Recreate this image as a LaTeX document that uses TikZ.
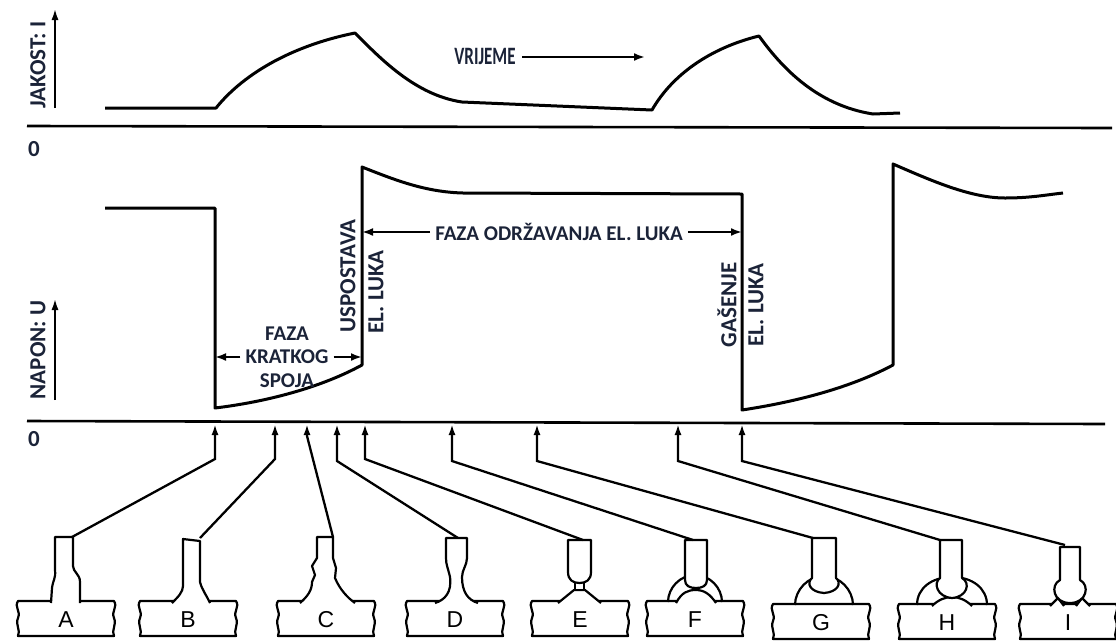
\documentclass[tikz,border=0pt]{standalone}
\usepackage{fontspec}
\setmainfont{Carlito}
\newfontfamily\sketchfont{Liberation Sans}
\usetikzlibrary{arrows.meta}
\definecolor{ink}{HTML}{1B2338}

\tikzset{
  curve/.style={line width=3pt, line join=round},
  axis/.style={line width=2.6pt},
  tag/.style={text=ink, font=\fontsize{21}{23.5}\selectfont\bfseries, inner sep=0pt},
  vtag/.style={tag, rotate=90, font=\fontsize{23}{23}\selectfont\bfseries},
  span/.style={line width=2.2pt, -{Latex[length=11pt,width=8pt]}},
  lead/.style={line width=2.3pt, -{Latex[length=11pt,width=7pt]}},
  weld/.style={line width=2.2pt, fill=white, line join=round},
  letter/.style={font=\sketchfont\fontsize{23}{23}\selectfont, inner sep=0pt},
  plate/.pic={
    \draw[weld] (-48,0) -- (48,0)
      .. controls (52,6) and (45,10) .. (48,17) .. controls (51,24) and (45,29) .. (48,35)
      -- (-48,35)
      .. controls (-45,29) and (-51,24) .. (-48,17) .. controls (-45,10) and (-52,6) .. (-48,0) -- cycle;
  }
}

\begin{document}
\begin{tikzpicture}[x=1pt, y=-1pt]
\useasboundingbox (0,0) rectangle (1116,641);

\draw[axis] (27,126) -- (1112,128);
\draw[axis] (27,421) -- (1105,424);
\draw[axis, -{Latex[length=12pt,width=7pt]}] (55,108) -- (55,8);
\draw[axis, -{Latex[length=12pt,width=7pt]}] (55,400) -- (55,298);
\node[vtag] (jakost) at (38,65) {JAKOST: I};
\node[vtag] (napon) at (38,350) {NAPON: U};
\node[tag, font=\fontsize{23}{23}\selectfont\bfseries] (nulaI) at (34,149) {0};
\node[tag, font=\fontsize{23}{23}\selectfont\bfseries] (nulaU) at (34,439) {0};

\draw[curve] (105,108) -- (216,108) .. controls (245,72) and (295,45) .. (355,33)
  .. controls (380,58) and (415,95) .. (462,102) -- (652,110)
  .. controls (672,75) and (710,48) .. (759,36)
  .. controls (780,65) and (815,105) .. (873,114) -- (900,113);

\node[tag, transform shape, xscale=.68, font=\fontsize{25}{25}\selectfont\bfseries] (vrijeme) at (485,56) {VRIJEME};
\coordinate (tend) at (645,57);
\draw[span] (522,57) -- (tend);

\coordinate (u1) at (215,208);
\coordinate (u2) at (215,408);
\coordinate (u3) at (362,365);
\coordinate (u4) at (362,167);
\coordinate (u5) at (742,194);
\coordinate (u6) at (742,410);
\coordinate (u7) at (893,365);
\coordinate (u8) at (893,164);
\draw[curve] (105,208) -- (u1) -- (u2) .. controls (265,402) and (320,388) .. (u3) -- (u4)
  .. controls (395,180) and (425,192) .. (463,193) -- (u5) -- (u6)
  .. controls (795,402) and (850,388) .. (u7) -- (u8)
  .. controls (930,180) and (970,198) .. (1005,198) .. controls (1030,198) and (1045,195) .. (1063,193);

\node[tag, align=center, inner xsep=5pt] (kratki) at (287,357) {FAZA\\KRATKOG\\SPOJA};
\draw[span] (kratki.west) -- (kratki.west -| u2);
\draw[span] (kratki.east) -- (kratki.east -| u3);
\node[tag, inner xsep=5pt] (odrz) at (559,232) {FAZA ODRŽAVANJA EL. LUKA};
\draw[span] (odrz.west) -- (odrz.west -| u4);
\draw[span] (odrz.east) -- (odrz.east -| u5);
\node[vtag] (usp) at (348,276) {USPOSTAVA};
\node[vtag] (uspluk) at (376,292) {EL. LUKA};
\node[vtag] (gas) at (727,305) {GAŠENJE};
\node[vtag] (gasluk) at (756,305) {EL. LUKA};

\foreach \k/\cx/\ty in {A/66/601, B/188/601, C/326/601, D/455/601, E/580/601,
    F/695/601, G/821/604, H/947/604, I/1068/604}{
  \pic at (\cx,\ty) {plate};
  \node[letter] (l\k) at (\cx,\ty+19) {\k};
}

\filldraw[weld] (51,603) -- (52,588) .. controls (53,580) and (56,578) .. (55,570) -- (55,537)
  -- (73,537) -- (73,566) .. controls (73,572) and (80,574) .. (80,582) -- (80,603);
\filldraw[weld] (172,603) .. controls (178,597) and (183,592) .. (183,586) -- (183,539)
  -- (200,541) -- (200,582) .. controls (202,590) and (207,596) .. (210,603);
\filldraw[weld] (300,603) .. controls (308,596) and (312,590) .. (312,582) -- (315,575) -- (312,566)
  -- (317,558) -- (317,537) -- (333,537) -- (333,558) -- (336,568) -- (335,578)
  .. controls (340,590) and (348,598) .. (355,603);
\filldraw[weld] (435,603) .. controls (445,600) and (452,592) .. (450,577)
  .. controls (448,568) and (446,565) .. (446,558) -- (446,538) -- (467,538) -- (467,558)
  .. controls (467,565) and (462,570) .. (462,577) .. controls (462,592) and (468,600) .. (478,603);

\filldraw[weld] (558,603) -- (574,590) -- (585,590) -- (601,603);
\draw[weld] (575,582) rectangle (584,590);
\filldraw[weld] (568,540) -- (568,572) .. controls (568,580) and (573,583) .. (579.5,583)
  .. controls (586,583) and (591,580) .. (591,572) -- (591,540) -- cycle;

\draw[weld, fill=none] (668,602) .. controls (668,588) and (680,575) .. (695,575)
  .. controls (710,575) and (722,588) .. (722,602);
\filldraw[weld] (676,603) .. controls (682,592) and (688,590) .. (696,590)
  .. controls (704,590) and (710,594) .. (716,603);
\filldraw[weld] (685,540) -- (685,580) .. controls (685,586) and (690,588) .. (696,588)
  .. controls (702,588) and (707,586) .. (707,580) -- (707,540) -- cycle;

\draw[weld, fill=none] (795,605) .. controls (795,590) and (808,576) .. (824,576)
  .. controls (840,576) and (853,590) .. (853,605);
\filldraw[weld] (812,538) -- (812,578) .. controls (806,583) and (810,592) .. (824,593)
  .. controls (838,592) and (842,583) .. (836,578) -- (836,538) -- cycle;

\draw[weld, fill=none] (917,605) .. controls (917,588) and (932,577) .. (952,577)
  .. controls (972,577) and (987,588) .. (987,605);
\filldraw[weld] (932,606) .. controls (938,600) and (945,597) .. (952,597)
  .. controls (959,597) and (966,600) .. (972,606);
\filldraw[weld] (940,540) -- (940,578) .. controls (933,583) and (937,597) .. (952,598)
  .. controls (967,597) and (971,583) .. (962,578) -- (962,540) -- cycle;

\filldraw[weld] (1050,606) -- (1058,598) -- (1064,606);
\filldraw[weld] (1076,606) -- (1082,598) -- (1090,606);
\filldraw[weld] (1060,547) -- (1060,580) .. controls (1050,585) and (1053,603) .. (1070,603)
  .. controls (1087,603) and (1090,585) .. (1080,580) -- (1080,547) -- cycle;

\foreach \k/\ax/\drop/\tx/\ty in {A/215/35/72/537, B/275/35/200/538, C/307/12/333/537,
    D/337/37/458/538, E/365/35/583/540, F/452/37/693/540, G/537/37/813/538,
    H/678/37/940/540, I/742/37/1065/545}{
  \coordinate (ax\k) at (\ax,424);
  \coordinate (tip\k) at (\tx,\ty);
  \draw[lead] (tip\k) -- ([yshift=-\drop pt]ax\k) -- (ax\k);
}
\end{tikzpicture}
\end{document}
